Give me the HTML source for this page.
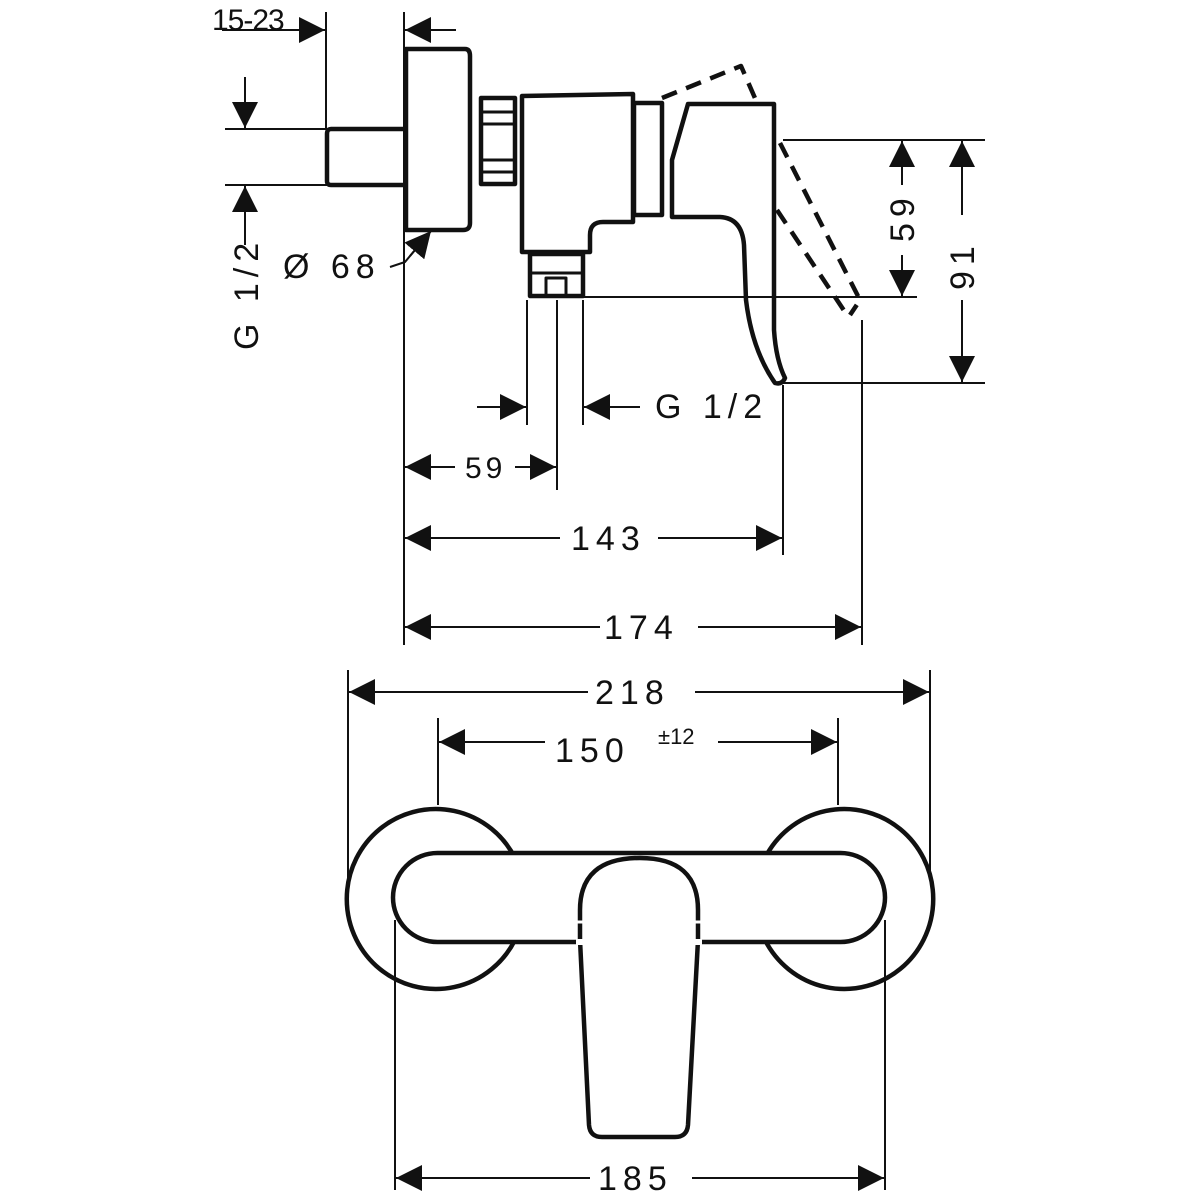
<!DOCTYPE html>
<html><head><meta charset="utf-8"><style>
html,body{margin:0;padding:0;background:#fff}
svg{display:block}
text{font-family:"Liberation Sans",sans-serif;fill:#111}
</style></head><body>
<svg width="1200" height="1200" viewBox="0 0 1200 1200" xmlns="http://www.w3.org/2000/svg">
<defs>
<marker id="a" viewBox="0 0 10 10" refX="10" refY="5" markerWidth="26" markerHeight="26" markerUnits="userSpaceOnUse" orient="auto-start-reverse"><path d="M0,0 L10,5 L0,10 Z" fill="#111"/></marker>
</defs>
<g stroke="#111" stroke-width="2" fill="none">
<line x1="326" y1="12" x2="326" y2="130"/>
<line x1="404" y1="12" x2="404" y2="645"/>
<line x1="225" y1="129" x2="327" y2="129"/>
<line x1="225" y1="185" x2="327" y2="185"/>
<line x1="527" y1="300" x2="527" y2="425"/>
<line x1="557" y1="300" x2="557" y2="490"/>
<line x1="583" y1="300" x2="583" y2="425"/>
<line x1="783" y1="385" x2="783" y2="555"/>
<line x1="862" y1="320" x2="862" y2="645"/>
<line x1="783" y1="140" x2="985" y2="140"/>
<line x1="583" y1="297" x2="917" y2="297"/>
<line x1="783" y1="383" x2="985" y2="383"/>
<line x1="222" y1="30" x2="325" y2="30" marker-end="url(#a)"/>
<line x1="456" y1="30" x2="405" y2="30" marker-end="url(#a)"/>
<line x1="245" y1="77" x2="245" y2="128" marker-end="url(#a)"/>
<line x1="245" y1="245" x2="245" y2="186" marker-end="url(#a)"/>
<polyline points="390,267 405,262 430,232"/>
<line x1="410" y1="256" x2="431" y2="231" marker-end="url(#a)"/>
<line x1="902" y1="185" x2="902" y2="141" marker-end="url(#a)"/>
<line x1="902" y1="255" x2="902" y2="296" marker-end="url(#a)"/>
<line x1="962" y1="215" x2="962" y2="141" marker-end="url(#a)"/>
<line x1="962" y1="300" x2="962" y2="382" marker-end="url(#a)"/>
<line x1="477" y1="407" x2="526" y2="407" marker-end="url(#a)"/>
<line x1="640" y1="407" x2="584" y2="407" marker-end="url(#a)"/>
<line x1="455" y1="467" x2="405" y2="467" marker-end="url(#a)"/>
<line x1="515" y1="467" x2="556" y2="467" marker-end="url(#a)"/>
<line x1="560" y1="538" x2="405" y2="538" marker-end="url(#a)"/>
<line x1="658" y1="538" x2="782" y2="538" marker-end="url(#a)"/>
<line x1="600" y1="627" x2="405" y2="627" marker-end="url(#a)"/>
<line x1="698" y1="627" x2="861" y2="627" marker-end="url(#a)"/>
<line x1="348" y1="670" x2="348" y2="880"/>
<line x1="930" y1="670" x2="930" y2="880"/>
<line x1="438" y1="718" x2="438" y2="805"/>
<line x1="838" y1="718" x2="838" y2="805"/>
<line x1="395" y1="920" x2="395" y2="1190"/>
<line x1="885" y1="920" x2="885" y2="1190"/>
<line x1="588" y1="692" x2="349" y2="692" marker-end="url(#a)"/>
<line x1="695" y1="692" x2="929" y2="692" marker-end="url(#a)"/>
<line x1="545" y1="742" x2="439" y2="742" marker-end="url(#a)"/>
<line x1="718" y1="742" x2="837" y2="742" marker-end="url(#a)"/>
<line x1="590" y1="1178" x2="396" y2="1178" marker-end="url(#a)"/>
<line x1="692" y1="1178" x2="884" y2="1178" marker-end="url(#a)"/>
</g>
<g stroke="#111" stroke-width="4.5" fill="none" stroke-linejoin="round">
<path d="M406,49 L465,49 Q470,49 470,56 L470,223 Q470,230 463,230 L406,230 Z"/>
<path d="M406,129 L331,129 Q327,129 327,134 L327,181 Q327,185 331,185 L406,185"/>
<rect x="481" y="98" width="34" height="86"/>
<line x1="481" y1="112" x2="515" y2="112" stroke-width="3"/>
<line x1="481" y1="124" x2="515" y2="124" stroke-width="3"/>
<line x1="481" y1="160" x2="515" y2="160" stroke-width="3"/>
<line x1="481" y1="172" x2="515" y2="172" stroke-width="3"/>
<path d="M522,96 L633,94 L633,222 L603,222 Q590,222 590,235 L590,252 L522,252 Z"/>
<rect x="530" y="254" width="53" height="42"/>
<line x1="530" y1="273" x2="583" y2="273" stroke-width="3"/>
<rect x="546" y="278" width="20" height="18" stroke-width="3"/>
<rect x="634" y="103" width="28" height="112"/>
<path d="M688,104 L774,104 L774,330 Q776,360 785,378 Q782,385 775,383 Q752,350 746,300 L744,245 Q742,218 720,217 L672,217 L672,160 Z"/>
<path d="M662,98 L741,66 L758,105 M780,143 L860,300 L850,315 M777,210 L845,312" stroke-dasharray="16,10"/>
</g>
<g stroke="#111" stroke-width="4.5" fill="none">
<path d="M515,858 A89,90 0 1 0 515,940"/>
<path d="M765,858 A89,90 0 1 1 765,940"/>
<rect x="393" y="853" width="492" height="89" rx="44.5" fill="#fff"/>
<path d="M580,940 L580,910 Q580,858 640,858 Q698,858 698,910 L698,940 L688,1125 Q687,1137 675,1137 L602,1137 Q590,1137 589,1125 Z" fill="#fff"/>
<line x1="576" y1="942" x2="702" y2="942" stroke="#fff" stroke-width="6"/>
<line x1="576" y1="922" x2="702" y2="922" stroke="#fff" stroke-width="3"/>
</g>
<text x="212" y="30" font-size="30" letter-spacing="-1">15-23</text>
<text transform="translate(258,350) rotate(-90)" font-size="34" letter-spacing="6">G 1/2</text>
<text x="283" y="278" font-size="34" letter-spacing="6">Ø 68</text>
<text transform="translate(914,242) rotate(-90)" font-size="34" letter-spacing="6">59</text>
<text transform="translate(974,290) rotate(-90)" font-size="34" letter-spacing="6">91</text>
<text x="655" y="418" font-size="34" letter-spacing="6">G 1/2</text>
<text x="465" y="478" font-size="30" letter-spacing="4">59</text>
<text x="571" y="550" font-size="34" letter-spacing="6">143</text>
<text x="604" y="639" font-size="34" letter-spacing="6">174</text>
<text x="595" y="704" font-size="34" letter-spacing="6">218</text>
<text x="555" y="762" font-size="34" letter-spacing="6">150</text>
<text x="658" y="744" font-size="22">±12</text>
<text x="598" y="1190" font-size="34" letter-spacing="6">185</text>
</svg>
</body></html>
